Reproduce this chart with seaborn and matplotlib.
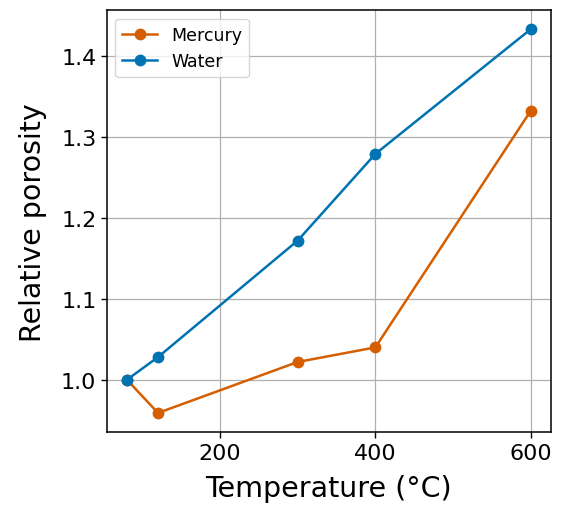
import pandas as pd
import seaborn as sns
import matplotlib.pyplot as plt

temps = [80, 120, 300, 400, 600]
mercury = [1.0, 0.959, 1.022, 1.040, 1.332]
water = [1.0, 1.028, 1.172, 1.279, 1.433]

df = pd.DataFrame({'temp': temps * 2,
                   'porosity': mercury + water,
                   'method': ['Mercury'] * len(temps) + ['Water'] * len(temps)})

fig, ax = plt.subplots(figsize=(5.62, 5.06), dpi=100)
sns.lineplot(data=df, x='temp', y='porosity', hue='method', marker='o',
             markersize=8.5, markeredgewidth=0, linewidth=1.8,
             palette={'Mercury': '#d55e00', 'Water': '#0173b2'}, ax=ax)
ax.grid(True, color='#b0b0b0', linewidth=0.9)
ax.set_axisbelow(True)
ax.set_xlabel('Temperature (°C)', fontsize=20.5, labelpad=8)
ax.set_ylabel('Relative porosity', fontsize=20.5, labelpad=10)
ax.tick_params(labelsize=16, width=1, length=4)
for s in ax.spines.values():
    s.set_linewidth(1.1)
ax.set_xticks([200, 400, 600])
ax.legend(title=None, loc='upper left', fontsize=12.5)
fig.subplots_adjust(left=0.19, right=0.98, top=0.978, bottom=0.144)
fig.savefig('out.png', dpi=100)
